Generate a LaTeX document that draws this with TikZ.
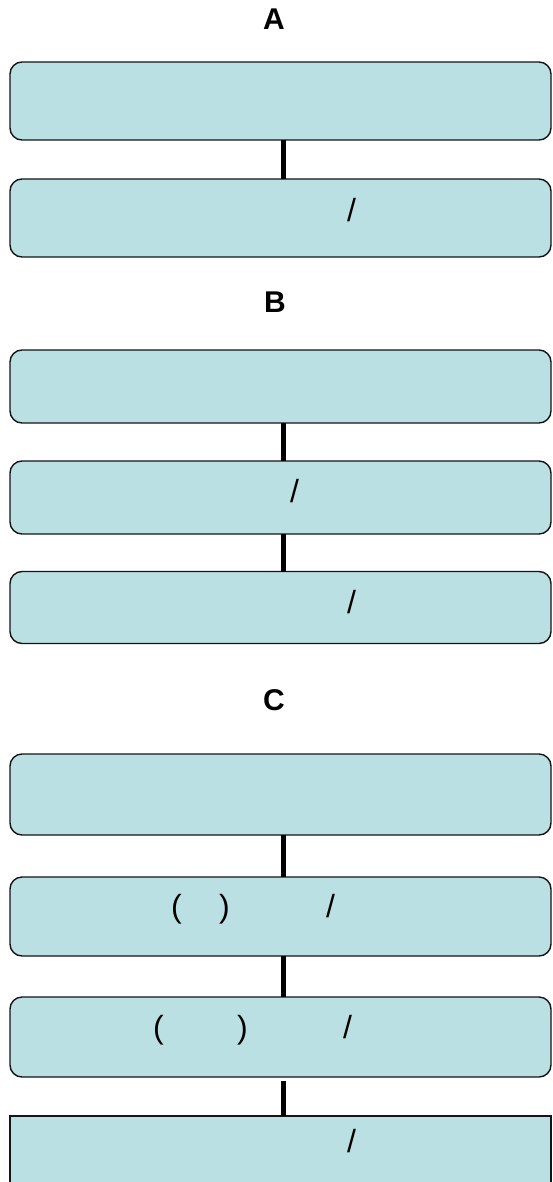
\documentclass[tikz,border=0pt]{standalone}
\usepackage{fontspec}
\setmainfont{Liberation Sans}
\definecolor{boxfill}{HTML}{BBE0E3}
\definecolor{boxline}{HTML}{151515}
\begin{document}
\begin{tikzpicture}[x=1pt,y=-1pt,
  box/.style={draw=boxline, line width=1.4pt, fill=boxfill, rounded corners=12pt,
    minimum width=541pt, inner sep=0pt, outer sep=0pt},
  sqbox/.style={box, sharp corners},
  title/.style={font=\fontsize{30}{36}\selectfont\bfseries, anchor=base, inner sep=0pt},
  txt/.style={font=\fontsize{32}{38}\selectfont, anchor=base west, inner sep=0pt},
  link/.style={line width=5pt, black}]
\clip (0,0) rectangle (552,1182);
\fill[white] (0,0) rectangle (552,1182);
% titles
\node[title] (ta) at (274,30) {A};
\node[title] (tb) at (275,312) {B};
\node[title] (tc) at (274,710) {C};
% group A
\node[box, minimum height=78pt] (a1) at (280.5,101) {};
\node[box, minimum height=78pt] (a2) at (280.5,218) {};
\node[txt] (a2t) at (347,222) {/};
% group B
\node[box, minimum height=73pt] (b1) at (280.5,386.5) {};
\node[box, minimum height=73pt] (b2) at (280.5,497.5) {};
\node[box, minimum height=72pt] (b3) at (280.5,607.5) {};
\node[txt] (b2t) at (290,502) {/};
\node[txt] (b3t) at (347,613) {/};
% group C
\node[box, minimum height=81pt] (c1) at (280.5,794.5) {};
\node[box, minimum height=79pt] (c2) at (280.5,916.5) {};
\node[box, minimum height=80pt] (c3) at (280.5,1037) {};
\node[sqbox, minimum height=80pt] (c4) at (280.5,1156) {};
\node[txt] (c2t) at (171,917) {(\hspace{37.3pt})\hspace{96.3pt}/};
\node[txt] (c3t) at (153,1038) {(\hspace{73.3pt})\hspace{95.3pt}/};
\node[txt] (c4t) at (347,1152) {/};
% connectors
\draw[link] ([xshift=2.5pt]a1.south) -- ([xshift=2.5pt]a2.north);
\draw[link] ([xshift=2.5pt]b1.south) -- ([xshift=2.5pt]b2.north);
\draw[link] ([xshift=2.5pt]b2.south) -- ([xshift=2.5pt]b3.north);
\draw[link] ([xshift=2.5pt]c1.south) -- ([xshift=2.5pt]c2.north);
\draw[link] ([xshift=2.5pt]c2.south) -- ([xshift=2.5pt]c3.north);
\draw[link] ([xshift=2.5pt,yshift=-4pt]c3.south) -- ([xshift=2.5pt]c4.north);
\end{tikzpicture}
\end{document}
